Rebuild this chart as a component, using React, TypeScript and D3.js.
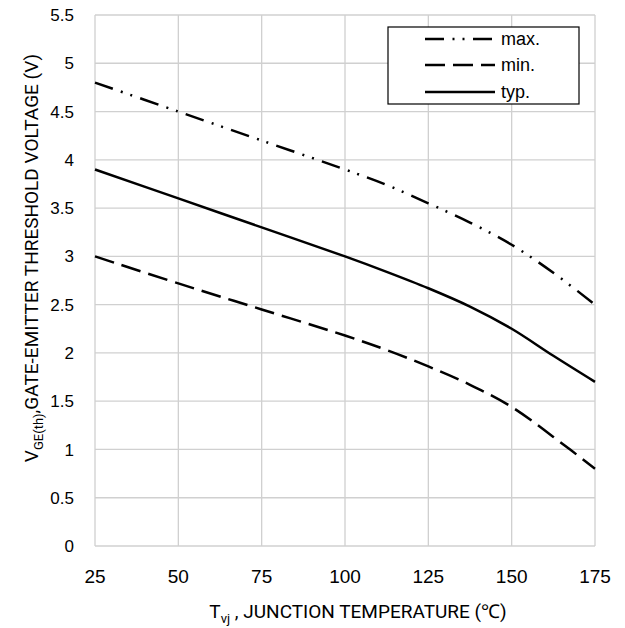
import React from "react";
import * as d3 from "d3";

const temps = [25, 50, 75, 100, 112.5, 125, 137.5, 150, 162.5, 175];
const typV = [3.9, 3.6, 3.3, 3.0, 2.84, 2.67, 2.48, 2.25, 1.97, 1.7];
const minV = [3.0, 2.72, 2.45, 2.18, 2.03, 1.86, 1.67, 1.44, 1.13, 0.8];
const maxV = [4.8, 4.5, 4.2, 3.9, 3.74, 3.55, 3.35, 3.12, 2.83, 2.5];

const xTicks = [25, 50, 75, 100, 125, 150, 175];
const yTicks = [0, 0.5, 1, 1.5, 2, 2.5, 3, 3.5, 4, 4.5, 5, 5.5];

const seriesNames = ["max.", "min.", "typ."];

const W = 625;
const H = 628;
const left = 95;
const right = 595;
const top = 15;
const bottom = 546;

const dashes: Record<string, string | undefined> = {
  "max.": "19 8.5 2 8 2 8.5",
  "min.": "20 8",
  "typ.": undefined,
};

export default function App() {
  const x = d3.scaleLinear().domain([25, 175]).range([left, right]);
  const y = d3.scaleLinear().domain([0, 5.5]).range([bottom, top]);
  const line = d3
    .line<[number, number]>()
    .x((d) => x(d[0]))
    .y((d) => y(d[1]))
    .curve(d3.curveCatmullRom.alpha(0.5));

  const data: Record<string, number[]> = { "max.": maxV, "min.": minV, "typ.": typV };
  const tickFont = "Liberation Sans, Arial, sans-serif";
  const titleFont = "Roboto, Liberation Sans, sans-serif";

  const legendX0 = 388;
  const legendY0 = 27;
  const rowYs = [39, 65, 92];

  return (
    <svg
      width={W}
      height={H}
      style={{ position: "absolute", left: 0, top: 0, background: "#fff" }}
    >
      <rect x={0} y={0} width={W} height={H} fill="#fff" />
      {yTicks.map((t) => (
        <line key={"gy" + t} x1={left} x2={right} y1={y(t)} y2={y(t)} stroke="#d0d0d0" strokeWidth={1.3} />
      ))}
      {xTicks.map((t) => (
        <line key={"gx" + t} x1={x(t)} x2={x(t)} y1={top} y2={bottom} stroke="#d0d0d0" strokeWidth={1.3} />
      ))}
      {yTicks.map((t) => (
        <text key={"ly" + t} x={74} y={y(t)} dy="0.36em" textAnchor="end" fontFamily={tickFont} fontSize={17} fill="#000">
          {String(t)}
        </text>
      ))}
      {xTicks.map((t) => (
        <text key={"lx" + t} x={x(t)} y={583} textAnchor="middle" fontFamily={tickFont} fontSize={19} fill="#000">
          {String(t)}
        </text>
      ))}
      {seriesNames.map((n) => (
        <path
          key={n}
          d={line(temps.map((t, i) => [t, data[n][i]] as [number, number])) || ""}
          fill="none"
          stroke="#000"
          strokeWidth={2.5}
          strokeDasharray={dashes[n]}
        />
      ))}
      <rect x={legendX0} y={legendY0} width={191} height={77} fill="#fff" stroke="#000" strokeWidth={1.2} />
      {seriesNames.map((n, i) => (
        <g key={"lg" + n}>
          <line x1={425} x2={495} y1={rowYs[i]} y2={rowYs[i]} stroke="#000" strokeWidth={2.5} strokeDasharray={dashes[n]} />
          <text x={501} y={rowYs[i]} dy="0.36em" fontFamily={tickFont} fontSize={18} fill="#000">
            {n}
          </text>
        </g>
      ))}
      <text x={358} y={618} textAnchor="middle" fontFamily={titleFont} fontSize={19} fill="#000">
        T<tspan fontSize={13} dy={5}>vj</tspan>
        <tspan dy={-5}> , JUNCTION TEMPERATURE (℃)</tspan>
      </text>
      <text
        transform={`translate(38,258) rotate(-90)`}
        textAnchor="middle"
        fontFamily={titleFont}
        fontSize={19}
        fill="#000"
      >
        V<tspan fontSize={13} dy={5}>GE(th)</tspan>
        <tspan dy={-5}>,GATE-EMITTER THRESHOLD VOLTAGE (V)</tspan>
      </text>
    </svg>
  );
}
